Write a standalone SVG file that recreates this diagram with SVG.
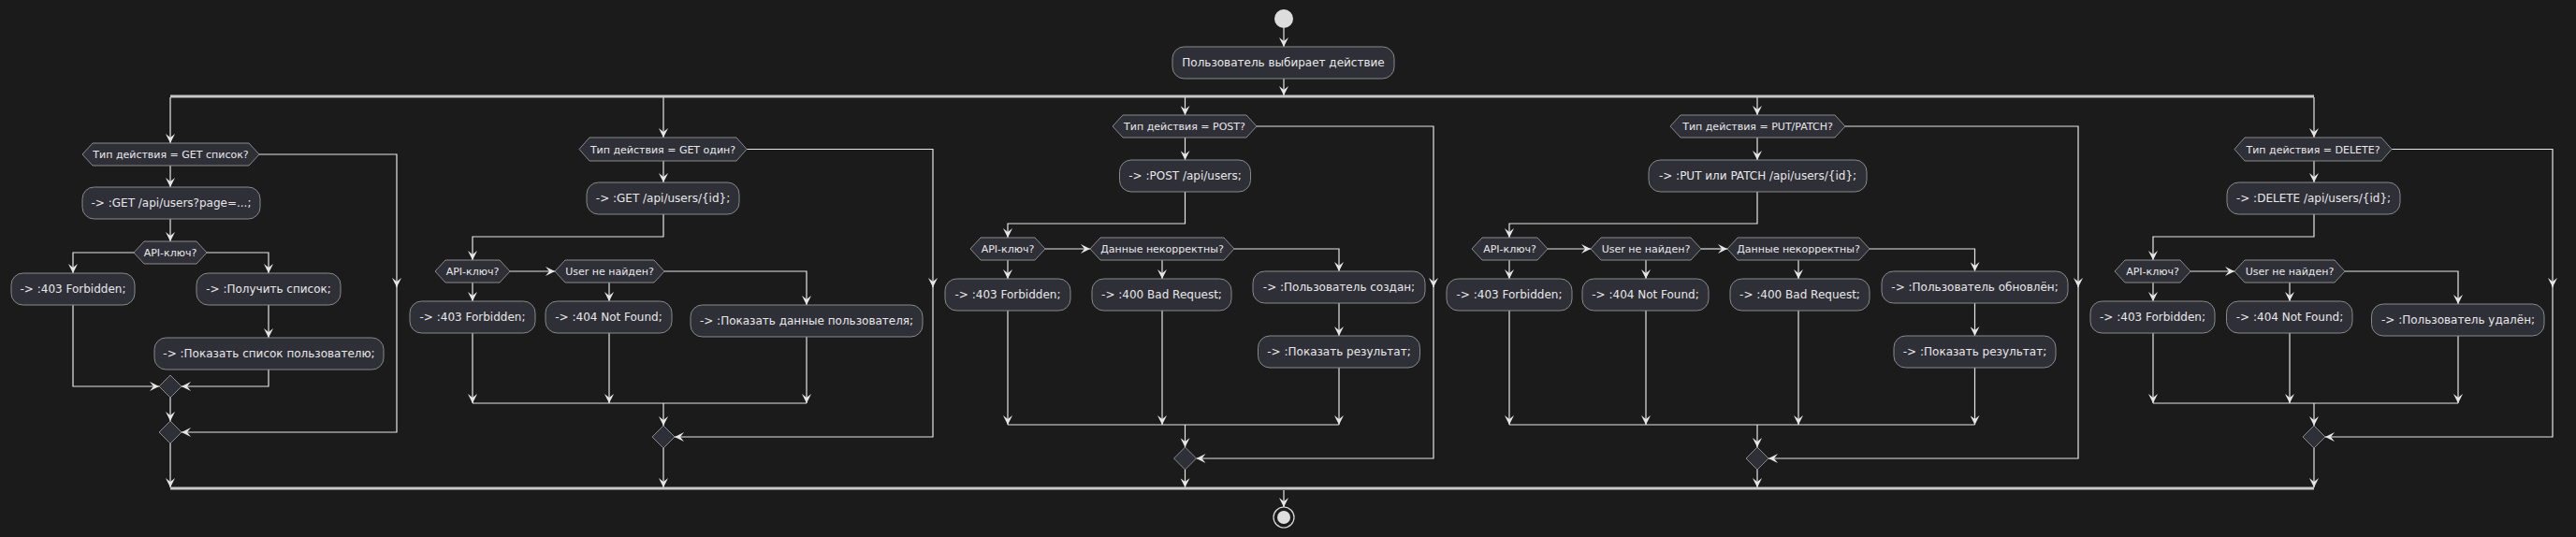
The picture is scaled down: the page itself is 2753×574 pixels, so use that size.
<svg xmlns="http://www.w3.org/2000/svg" width="2753" height="574" viewBox="0 0 2753 574">
<defs>
<style>
.act{fill:#2f2f38;stroke:#8a8a8a;stroke-width:1}
.hex{fill:#2f2f38;stroke:#8a8a8a;stroke-width:1}
.t{font-family:"DejaVu Sans",sans-serif;font-size:12px;fill:#e8e8e8;text-anchor:middle}
.th{font-family:"DejaVu Sans",sans-serif;font-size:11px;fill:#e8e8e8;text-anchor:middle}
.e{fill:none;stroke:#e6e6e6;stroke-width:1.2}
.ea{fill:none;stroke:#e6e6e6;stroke-width:1.2;marker-end:url(#ah)}
.bar{fill:#c8c8c8}
</style>
<marker id="ah" viewBox="0 0 10 10" refX="10" refY="5" markerWidth="10" markerHeight="10" markerUnits="userSpaceOnUse" orient="auto"><path d="M0,0 L10,5 L0,10 L4,5 Z" fill="#e6e6e6"/></marker>
</defs>
<rect width="2753" height="574" fill="#1b1b1b"/>

<g id="connectors">
<!-- start -->
<path class="ea" d="M1372,30 V50"/>
<path class="ea" d="M1372,84 V102"/>
<!-- branch 1 -->
<path class="ea" d="M182,104 V153"/>
<path class="ea" d="M182,177 V200"/>
<path class="ea" d="M182,234 V258"/>
<path class="ea" d="M143,270 H78 V292"/>
<path class="ea" d="M221,270 H287 V292"/>
<path class="ea" d="M287,326 V361"/>
<path class="ea" d="M78,326 V413 H170"/>
<path class="ea" d="M287,395 V413 H194"/>
<path class="ea" d="M182,425 V450"/>
<path class="ea" d="M182,474 V521"/>
<path class="ea" d="M277,165 H424 V307"/>
<path class="ea" d="M424,306 V462 H194"/>
<!-- branch 2 -->
<path class="ea" d="M709,104 V147"/>
<path class="ea" d="M709,172 V195"/>
<path class="ea" d="M709,229 V253 H505 V278"/>
<path class="ea" d="M545,290 H593"/>
<path class="ea" d="M505,302 V322"/>
<path class="ea" d="M651,302 V322"/>
<path class="ea" d="M710,290 H862 V326"/>
<path class="ea" d="M505,356 V431"/>
<path class="ea" d="M651,356 V431"/>
<path class="ea" d="M862,360 V431"/>
<path class="e" d="M505,431 H862"/>
<path class="ea" d="M709,431 V455"/>
<path class="ea" d="M709,479 V521"/>
<path class="ea" d="M798,159.5 H997 V307"/>
<path class="ea" d="M997,306 V467 H721"/>
<!-- branch 3 -->
<path class="ea" d="M1266.5,104 V123"/>
<path class="ea" d="M1266.5,147 V171"/>
<path class="ea" d="M1266.5,205 V239 H1077 V254"/>
<path class="ea" d="M1117,266 H1165"/>
<path class="ea" d="M1077,278 V298"/>
<path class="ea" d="M1242,278 V298"/>
<path class="ea" d="M1319,266 H1431 V290"/>
<path class="ea" d="M1431,324 V359"/>
<path class="ea" d="M1077,332 V454"/>
<path class="ea" d="M1242,332 V454"/>
<path class="ea" d="M1431,393 V454"/>
<path class="e" d="M1077,454 H1431"/>
<path class="ea" d="M1266.5,454 V478"/>
<path class="ea" d="M1266.5,502 V521"/>
<path class="ea" d="M1343,135 H1532 V307"/>
<path class="ea" d="M1532,306 V490 H1278.5"/>
<!-- branch 4 -->
<path class="ea" d="M1878,104 V123"/>
<path class="ea" d="M1878,147 V171"/>
<path class="ea" d="M1878,205 V239 H1613 V254"/>
<path class="ea" d="M1654,266 H1700"/>
<path class="ea" d="M1818,266 H1846"/>
<path class="ea" d="M1613,278 V298"/>
<path class="ea" d="M1759,278 V298"/>
<path class="ea" d="M1922,278 V298"/>
<path class="ea" d="M1998,266 H2110.5 V290"/>
<path class="ea" d="M2110.5,324 V359"/>
<path class="ea" d="M1613,332 V454"/>
<path class="ea" d="M1759,332 V454"/>
<path class="ea" d="M1922,332 V454"/>
<path class="ea" d="M2110.5,393 V454"/>
<path class="e" d="M1613,454 H2110.5"/>
<path class="ea" d="M1878,454 V478"/>
<path class="ea" d="M1878,502 V521"/>
<path class="ea" d="M1972,135 H2221 V307"/>
<path class="ea" d="M2221,306 V490 H1890"/>
<!-- branch 5 -->
<path class="ea" d="M2473,104 V147"/>
<path class="ea" d="M2473,172 V195"/>
<path class="ea" d="M2473,229 V253 H2301 V278"/>
<path class="ea" d="M2341,290 H2388"/>
<path class="ea" d="M2301,302 V322"/>
<path class="ea" d="M2447,302 V322"/>
<path class="ea" d="M2506,290 H2627 V325"/>
<path class="ea" d="M2301,356 V431"/>
<path class="ea" d="M2447,356 V431"/>
<path class="ea" d="M2627,359 V431"/>
<path class="e" d="M2301,431 H2627"/>
<path class="ea" d="M2473,431 V455"/>
<path class="ea" d="M2473,479 V521"/>
<path class="ea" d="M2556,159.5 H2728 V307"/>
<path class="ea" d="M2728,306 V467 H2485"/>
<!-- end -->
<path class="ea" d="M1372,524 V542"/>
</g>

<g id="start"><circle cx="1372" cy="20" r="10" fill="#dddddd"/></g>
<g id="choose"><rect class="act" x="1253" y="50" width="237" height="34" rx="12.5"/><text class="t" x="1371.5" y="71.3">Пользователь выбирает действие</text></g>
<g id="fork"><rect class="bar" x="182" y="101.5" width="2291" height="3"/></g>
<g id="join"><rect class="bar" x="182" y="520.5" width="2291" height="3"/></g>
<g id="end"><circle cx="1372" cy="553" r="11" fill="none" stroke="#dddddd" stroke-width="1.2"/><circle cx="1372" cy="553" r="7" fill="#dddddd"/></g>

<!-- branch 1 -->
<g id="if-get-list"><polygon class="hex" points="88,165 99,153 266,153 277,165 266,177 99,177"/><text class="th" x="182.5" y="169">Тип действия = GET список?</text></g>
<g id="get-list"><rect class="act" x="88" y="200" width="190" height="34" rx="12.5"/><text class="t" x="183" y="221.3">-&gt; :GET /api/users?page=...;</text></g>
<g id="key1"><polygon class="hex" points="143,270 154,258 210,258 221,270 210,282 154,282"/><text class="th" x="182" y="274">API-ключ?</text></g>
<g id="forbidden1"><rect class="act" x="12" y="292" width="132" height="34" rx="12.5"/><text class="t" x="78" y="313.3">-&gt; :403 Forbidden;</text></g>
<g id="get-listres"><rect class="act" x="210" y="292" width="154" height="34" rx="12.5"/><text class="t" x="287" y="313.3">-&gt; :Получить список;</text></g>
<g id="show-list"><rect class="act" x="165" y="361" width="245" height="34" rx="12.5"/><text class="t" x="287.5" y="382.3">-&gt; :Показать список пользователю;</text></g>
<g id="merge1a"><polygon class="hex" points="182,401 194,413 182,425 170,413"/></g>
<g id="merge1b"><polygon class="hex" points="182,450 194,462 182,474 170,462"/></g>

<!-- branch 2 -->
<g id="if-get-one"><polygon class="hex" points="619,159.5 630,147 787,147 798,159.5 787,172 630,172"/><text class="th" x="708.5" y="163.5">Тип действия = GET один?</text></g>
<g id="get-one"><rect class="act" x="627" y="195" width="163" height="34" rx="12.5"/><text class="t" x="708.5" y="216.3">-&gt; :GET /api/users/{id};</text></g>
<g id="key2"><polygon class="hex" points="465,290 476,278 534,278 545,290 534,302 476,302"/><text class="th" x="505" y="294">API-ключ?</text></g>
<g id="nf2q"><polygon class="hex" points="593,290 604,278 699,278 710,290 699,302 604,302"/><text class="th" x="651.5" y="294">User не найден?</text></g>
<g id="forbidden2"><rect class="act" x="438" y="322" width="134" height="34" rx="12.5"/><text class="t" x="505" y="343.3">-&gt; :403 Forbidden;</text></g>
<g id="notfound2"><rect class="act" x="583" y="322" width="135" height="34" rx="12.5"/><text class="t" x="650.5" y="343.3">-&gt; :404 Not Found;</text></g>
<g id="show-user"><rect class="act" x="738" y="326" width="248" height="34" rx="12.5"/><text class="t" x="862" y="347.3">-&gt; :Показать данные пользователя;</text></g>
<g id="merge2"><polygon class="hex" points="709,455 721,467 709,479 697,467"/></g>

<!-- branch 3 -->
<g id="if-post"><polygon class="hex" points="1189,135 1200,123 1332,123 1343,135 1332,147 1200,147"/><text class="th" x="1266" y="139">Тип действия = POST?</text></g>
<g id="post"><rect class="act" x="1196.5" y="171" width="140" height="34" rx="12.5"/><text class="t" x="1266.5" y="192.3">-&gt; :POST /api/users;</text></g>
<g id="key3"><polygon class="hex" points="1037,266 1048,254 1106,254 1117,266 1106,278 1048,278"/><text class="th" x="1077" y="270">API-ключ?</text></g>
<g id="bad3q"><polygon class="hex" points="1165,266 1176,254 1308,254 1319,266 1308,278 1176,278"/><text class="th" x="1242" y="270">Данные некорректны?</text></g>
<g id="forbidden3"><rect class="act" x="1010" y="298" width="134" height="34" rx="12.5"/><text class="t" x="1077" y="319.3">-&gt; :403 Forbidden;</text></g>
<g id="bad3"><rect class="act" x="1167" y="298" width="149" height="34" rx="12.5"/><text class="t" x="1241.5" y="319.3">-&gt; :400 Bad Request;</text></g>
<g id="created"><rect class="act" x="1339" y="290" width="184" height="34" rx="12.5"/><text class="t" x="1431" y="311.3">-&gt; :Пользователь создан;</text></g>
<g id="result3"><rect class="act" x="1344.5" y="359" width="173" height="34" rx="12.5"/><text class="t" x="1431" y="380.3">-&gt; :Показать результат;</text></g>
<g id="merge3"><polygon class="hex" points="1266.5,478 1278.5,490 1266.5,502 1254.5,490"/></g>

<!-- branch 4 -->
<g id="if-put"><polygon class="hex" points="1785,135 1796,123 1961,123 1972,135 1961,147 1796,147"/><text class="th" x="1878.5" y="139">Тип действия = PUT/PATCH?</text></g>
<g id="put"><rect class="act" x="1762" y="171" width="233" height="34" rx="12.5"/><text class="t" x="1878.5" y="192.3">-&gt; :PUT или PATCH /api/users/{id};</text></g>
<g id="key4"><polygon class="hex" points="1573,266 1584,254 1643,254 1654,266 1643,278 1584,278"/><text class="th" x="1613.5" y="270">API-ключ?</text></g>
<g id="nf4q"><polygon class="hex" points="1700,266 1711,254 1807,254 1818,266 1807,278 1711,278"/><text class="th" x="1759" y="270">User не найден?</text></g>
<g id="bad4q"><polygon class="hex" points="1846,266 1857,254 1987,254 1998,266 1987,278 1857,278"/><text class="th" x="1922" y="270">Данные некорректны?</text></g>
<g id="forbidden4"><rect class="act" x="1546" y="298" width="134" height="34" rx="12.5"/><text class="t" x="1613" y="319.3">-&gt; :403 Forbidden;</text></g>
<g id="notfound4"><rect class="act" x="1691" y="298" width="135" height="34" rx="12.5"/><text class="t" x="1758.5" y="319.3">-&gt; :404 Not Found;</text></g>
<g id="bad4"><rect class="act" x="1849" y="298" width="149" height="34" rx="12.5"/><text class="t" x="1923.5" y="319.3">-&gt; :400 Bad Request;</text></g>
<g id="updated"><rect class="act" x="2011" y="290" width="199" height="34" rx="12.5"/><text class="t" x="2110.5" y="311.3">-&gt; :Пользователь обновлён;</text></g>
<g id="result4"><rect class="act" x="2024" y="359" width="173" height="34" rx="12.5"/><text class="t" x="2110.5" y="380.3">-&gt; :Показать результат;</text></g>
<g id="merge4"><polygon class="hex" points="1878,478 1890,490 1878,502 1866,490"/></g>

<!-- branch 5 -->
<g id="if-delete"><polygon class="hex" points="2388,159.5 2399,147 2545,147 2556,159.5 2545,172 2399,172"/><text class="th" x="2472" y="163.5">Тип действия = DELETE?</text></g>
<g id="delete"><rect class="act" x="2380" y="195" width="185" height="34" rx="12.5"/><text class="t" x="2472.5" y="216.3">-&gt; :DELETE /api/users/{id};</text></g>
<g id="key5"><polygon class="hex" points="2260,290 2271,278 2330,278 2341,290 2330,302 2271,302"/><text class="th" x="2300.5" y="294">API-ключ?</text></g>
<g id="nf5q"><polygon class="hex" points="2388,290 2399,278 2495,278 2506,290 2495,302 2399,302"/><text class="th" x="2447" y="294">User не найден?</text></g>
<g id="forbidden5"><rect class="act" x="2234" y="322" width="133" height="34" rx="12.5"/><text class="t" x="2300.5" y="343.3">-&gt; :403 Forbidden;</text></g>
<g id="notfound5"><rect class="act" x="2379.5" y="322" width="134.5" height="34" rx="12.5"/><text class="t" x="2447" y="343.3">-&gt; :404 Not Found;</text></g>
<g id="deleted"><rect class="act" x="2534.5" y="325" width="184.5" height="34" rx="12.5"/><text class="t" x="2627" y="346.3">-&gt; :Пользователь удалён;</text></g>
<g id="merge5"><polygon class="hex" points="2473,455 2485,467 2473,479 2461,467"/></g>
</svg>
